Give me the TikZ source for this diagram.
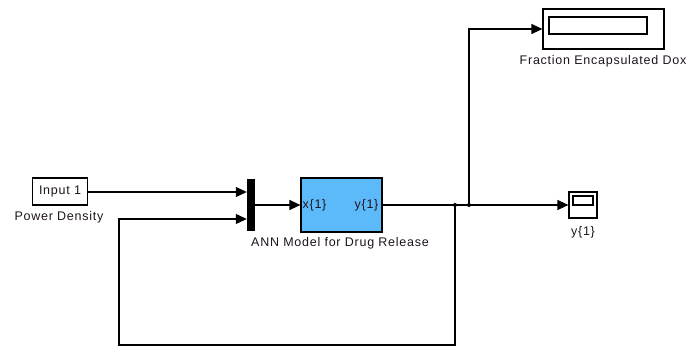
\documentclass[tikz,border=0pt]{standalone}
\usepackage{fontspec}
\setmainfont{Liberation Sans}[LetterSpace=6]
\usetikzlibrary{arrows.meta}
\definecolor{annblue}{RGB}{92,185,250}
\definecolor{txt}{RGB}{30,20,30}
\begin{document}
\begin{tikzpicture}[x=1pt,y=-1pt,
  font=\fontsize{12.5}{14}\selectfont,
  blk/.style={draw, line width=1.2pt, inner sep=0pt},
  lbl/.style={text=txt, inner sep=0pt},
  arr/.style={line width=1.2pt, -{Triangle[length=11pt,width=10pt]}},
  dot/.style={fill=black, circle, inner sep=0pt, minimum size=4pt}]
\useasboundingbox (0,0) rectangle (690,347);
% blocks
\node[blk, minimum width=55pt, minimum height=27pt] (in) at (60,191.5) {};
\node[lbl] (intext) at (in.center) {Input 1};
\node[lbl] (inlbl) at (59,217) {Power Density};
\node[fill=black, minimum width=8pt, minimum height=52pt, inner sep=0pt] (mux) at (251,205) {};
\node[blk, fill=annblue, minimum width=81pt, minimum height=54pt] (ann) at (341.5,205) {};
\node[lbl, anchor=west] (annx) at ([xshift=2pt]ann.west) {x\{1\}};
\node[lbl, anchor=east] (anny) at ([xshift=-4pt]ann.east) {y\{1\}};
\node[lbl] (annlbl) at (340,243) {ANN Model for Drug Release};
\node[blk, minimum width=28pt, minimum height=26pt] (scope) at (583,205) {};
\node[blk, minimum width=20pt, minimum height=9pt] (scopein) at (583,200.5) {};
\node[lbl] (scopelbl) at (583,232) {y\{1\}};
\node[blk, minimum width=121pt, minimum height=40pt] (disp) at (603.5,29) {};
\node[blk, minimum width=98pt, minimum height=17pt] (dispin) at (598,25.5) {};
\node[lbl] (displbl) at (603,61) {Fraction Encapsulated Dox};
% branch points
\coordinate (b1) at (455,205);
\coordinate (b2) at (469,205);
\coordinate (fb1) at (455,345);
\coordinate (fb2) at (119,345);
\coordinate (fb3) at (119,219);
\coordinate (up) at (469,29);
\coordinate (iny) at (0,192);
% wires
\draw[arr] (in.east |- iny) -- (mux.west |- iny);
\draw[arr] (mux.east) -- (ann.west);
\draw[arr] (ann.east) -- (scope.west);
\draw[arr] (b2) -- (up) -- (disp.west);
\draw[arr] (b1) -- (fb1) -- (fb2) -- (fb3) -- (mux.west |- fb3);
\node[dot] at (b1) {};
\node[dot] at (b2) {};
\end{tikzpicture}
\end{document}
